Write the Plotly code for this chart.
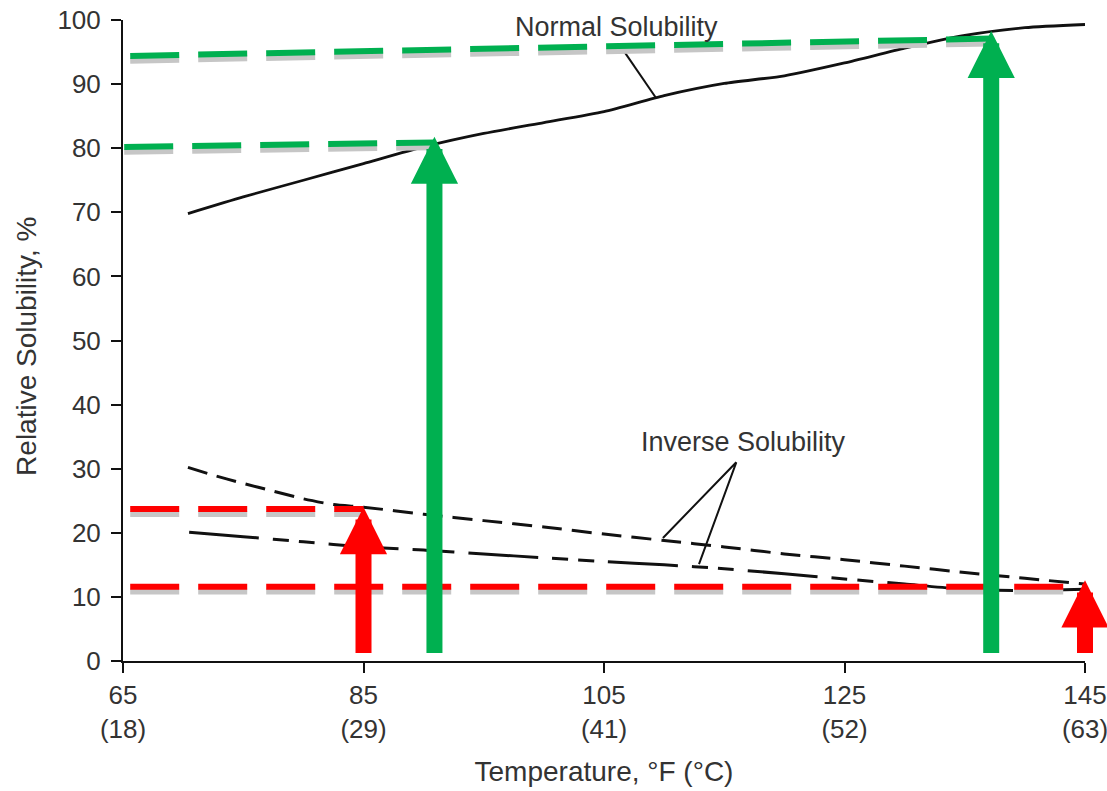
import plotly.graph_objects as go

# ---------------- data ----------------
normal_T = [70.4, 75, 80, 85, 90, 95, 100, 105, 110, 115, 120, 125, 130, 135, 140, 145]
normal_S = [69.8, 72.4, 75.0, 77.6, 80.2, 82.3, 84.0, 85.7, 88.2, 90.1, 91.3, 93.3, 95.6, 97.6, 98.8, 99.3]

inv_dash_T = [70.4, 72.5, 75, 77.5, 80, 82.5, 85, 90, 95, 100, 105, 110, 115, 120, 125, 130, 135, 140, 145]
inv_dash_S = [30.2, 29.0, 27.7, 26.5, 25.3, 24.4, 24.0, 22.9, 21.9, 20.9, 19.8, 18.8, 17.8, 16.7, 15.8, 14.8, 13.8, 12.9, 12.0]

inv_dashdot_T = [70.5, 75, 80, 85, 90, 95, 100, 105, 110, 115, 120, 125, 130, 135, 140, 145]
inv_dashdot_S = [20.1, 19.4, 18.6, 17.8, 17.3, 16.7, 16.1, 15.5, 15.0, 14.4, 13.6, 12.8, 12.0, 11.2, 11.0, 11.2]

green_ref_T = [[65.6, 137.2], [65.1, 90.9]]
green_ref_S = [[94.4, 97.1], [80.2, 80.9]]
red_ref_T = [[65.6, 85.0], [65.6, 145.0]]
red_ref_S = [[23.7, 23.7], [11.6, 11.6]]

green_arrow_T = [90.9, 137.2]
green_arrow_tip = [81.8, 98.3]
red_arrow_T = [85.0, 145.0]
red_arrow_tip = [24.0, 12.6]
arrow_base = 1.0

x_tickvals = [65, 85, 105, 125, 145]
x_ticktext = ["65<br>(18)", "85<br>(29)", "105<br>(41)", "125<br>(52)", "145<br>(63)"]
y_tickvals = [0, 10, 20, 30, 40, 50, 60, 70, 80, 90, 100]

normal_label = "Normal Solubility"
normal_label_pos = (106.0, 98.9)
normal_leader_T = [106.6, 109.3]
normal_leader_S = [95.3, 87.9]

inverse_label = "Inverse Solubility"
inverse_label_pos = (116.6, 34.2)
inverse_leader_T = [109.9, 116.0, 112.9]
inverse_leader_S = [19.2, 31.0, 15.1]

x_title = "Temperature, °F (°C)"
y_title = "Relative Solubility, %"
y_title_center = 49.0   # in data units of the y axis

# ---------------- style ----------------
GREEN = "#00b050"
RED = "#ff0000"
SHADOW = "#c6c6c6"
INK = "#111111"
TXT = "#333333"
FONT = "Liberation Sans, Arial, Helvetica, sans-serif"
SHADOW_DY = 0.75
DASH_REF = "49px,19px"

fig = go.Figure()

# black curves
fig.add_trace(go.Scatter(x=normal_T, y=normal_S, mode="lines",
                         line=dict(color=INK, width=2.8, shape="spline", smoothing=0.6),
                         hoverinfo="skip"))
fig.add_trace(go.Scatter(x=inv_dash_T, y=inv_dash_S, mode="lines",
                         line=dict(color=INK, width=3, dash="20px,10px", shape="spline", smoothing=0.6),
                         hoverinfo="skip"))
fig.add_trace(go.Scatter(x=inv_dashdot_T, y=inv_dashdot_S, mode="lines",
                         line=dict(color=INK, width=3, dash="70px,14px,16px,10px,16px,14px",
                                   shape="spline", smoothing=0.6),
                         hoverinfo="skip"))

# leader lines
fig.add_trace(go.Scatter(x=normal_leader_T, y=normal_leader_S, mode="lines",
                         line=dict(color=INK, width=2), hoverinfo="skip"))
fig.add_trace(go.Scatter(x=inverse_leader_T, y=inverse_leader_S, mode="lines",
                         line=dict(color=INK, width=2), hoverinfo="skip"))

# reference dashed lines with shadow
for Ts, Ss, col in [(green_ref_T, green_ref_S, GREEN), (red_ref_T, red_ref_S, RED)]:
    for t, s in zip(Ts, Ss):
        fig.add_trace(go.Scatter(x=t, y=[v - SHADOW_DY for v in s], mode="lines",
                                 line=dict(color=SHADOW, width=6, dash=DASH_REF),
                                 hoverinfo="skip"))
        fig.add_trace(go.Scatter(x=t, y=s, mode="lines",
                                 line=dict(color=col, width=6, dash=DASH_REF),
                                 hoverinfo="skip"))

# arrows
for Ts, tips, col in [(green_arrow_T, green_arrow_tip, GREEN), (red_arrow_T, red_arrow_tip, RED)]:
    for t, tip in zip(Ts, tips):
        fig.add_annotation(x=t, y=tip, ax=t, ay=arrow_base, xref="x", yref="y",
                           axref="x", ayref="y", text="", showarrow=True,
                           arrowhead=2, arrowwidth=16, arrowsize=0.59,
                           arrowcolor=col, standoff=0)

# text labels
fig.add_annotation(x=normal_label_pos[0], y=normal_label_pos[1], text=normal_label,
                   showarrow=False, font=dict(size=27, color=TXT, family=FONT))
fig.add_annotation(x=inverse_label_pos[0], y=inverse_label_pos[1], text=inverse_label,
                   showarrow=False, font=dict(size=27, color=TXT, family=FONT))

# y axis title (as annotation to place it like the reference)
fig.add_annotation(x=0, xref="paper", xshift=-96, xanchor="center", yanchor="middle",
                   y=y_title_center, yref="y",
                   text=y_title, textangle=-90, showarrow=False,
                   font=dict(size=28, color=TXT, family=FONT))

fig.update_layout(
    width=1107, height=791,
    margin=dict(l=123, r=22, t=20, b=130),
    paper_bgcolor="white", plot_bgcolor="white",
    showlegend=False,
    font=dict(family=FONT, size=26, color=TXT),
)
fig.update_xaxes(range=[65, 145], tickvals=x_tickvals, ticktext=x_ticktext,
                 automargin=False, ticklabeloverflow="allow",
                 showgrid=False, zeroline=False, showline=True, linecolor=INK, linewidth=2,
                 ticks="outside", ticklen=10, tickwidth=2, tickcolor=INK,
                 tickfont=dict(size=26, color=TXT, family=FONT),
                 title=dict(text=x_title, standoff=18,
                            font=dict(size=28, color=TXT, family=FONT)))
fig.update_yaxes(range=[0, 100], tickvals=y_tickvals,
                 automargin=False, ticklabeloverflow="allow",
                 showgrid=False, zeroline=False, showline=True, linecolor=INK, linewidth=2,
                 ticks="outside", ticklen=10, tickwidth=2, tickcolor=INK,
                 ticklabelstandoff=5,
                 tickfont=dict(size=26, color=TXT, family=FONT))

fig.write_html("out.html",
               config={"displayModeBar": False},
               post_script="document.body.style.margin='0';document.body.style.overflow='hidden';")
